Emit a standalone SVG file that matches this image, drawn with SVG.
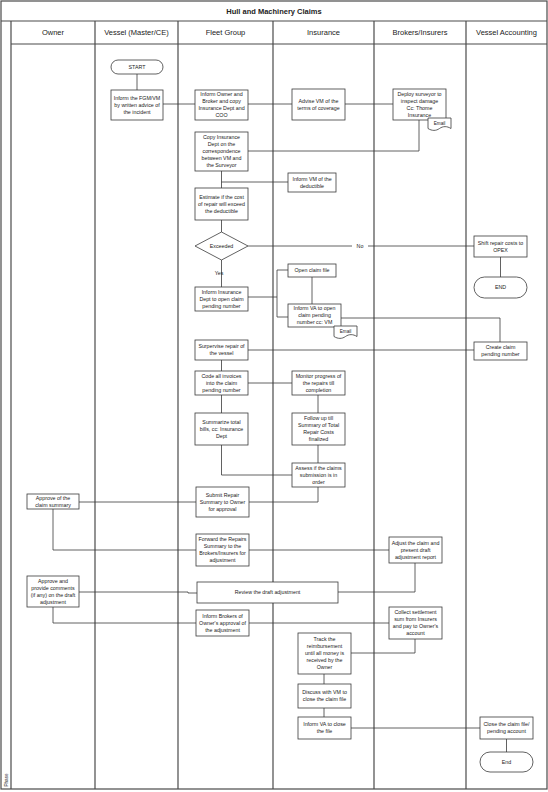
<svg xmlns="http://www.w3.org/2000/svg" width="548" height="792" viewBox="0 0 548 792">
<style>
.box{fill:#fff;stroke:#3a3a3a;stroke-width:0.8}
.ln{fill:none;stroke:#3a3a3a;stroke-width:0.8}
.lane{fill:none;stroke:#4a4a4a;stroke-width:1.2}
.t{font-family:'Liberation Sans',Arial,sans-serif;font-size:5.3px;fill:#222;text-anchor:middle}
.h{font-size:7.5px}
.b{font-weight:bold}
.e{font-size:4.6px}
</style>
<rect width="548" height="792" fill="#fff"/>
<g id="frame">
<rect class="lane" x="1" y="1" width="546" height="788"/>
<line class="lane" x1="1" y1="21" x2="547" y2="21"/>
<line class="lane" x1="11" y1="44" x2="547" y2="44"/>
<line class="lane" x1="11" y1="21" x2="11" y2="789"/>
<line class="lane" x1="95" y1="21" x2="95" y2="789"/>
<line class="lane" x1="178" y1="21" x2="178" y2="789"/>
<line class="lane" x1="273" y1="21" x2="273" y2="789"/>
<line class="lane" x1="374" y1="21" x2="374" y2="789"/>
<line class="lane" x1="466" y1="21" x2="466" y2="789"/>
<text class="t h b" x="274" y="14">Hull and Machinery Claims</text>
<text class="t h" x="53" y="35">Owner</text>
<text class="t h" x="136.5" y="35">Vessel (Master/CE)</text>
<text class="t h" x="225.5" y="35">Fleet Group</text>
<text class="t h" x="323.5" y="35">Insurance</text>
<text class="t h" x="420" y="35">Brokers/Insurers</text>
<text class="t h" x="506.5" y="35">Vessel Accounting</text>
<text class="t e" transform="translate(7.5,780) rotate(-90)">Phase</text>
</g>
<g id="connectors">
<path class="ln" d="M137,74V90"/>
<path class="ln" d="M163,104H195"/>
<path class="ln" d="M248,104H292"/>
<path class="ln" d="M345,104H393"/>
<path class="ln" d="M419,120V151H248"/>
<path class="ln" d="M221.5,171V188M221.5,182H288"/>
<path class="ln" d="M221.5,220V232"/>
<path class="ln" d="M248,246H474"/>
<path class="ln" d="M221.5,260V287"/>
<path class="ln" d="M248,297H277M277,270V317M277,270H288M277,317H288"/>
<path class="ln" d="M312,277V304"/>
<path class="ln" d="M341,318H500V342"/>
<path class="ln" d="M500.5,257V277"/>
<path class="ln" d="M248,350H474"/>
<path class="ln" d="M221.5,360V371"/>
<path class="ln" d="M248,383H292"/>
<path class="ln" d="M318,395V413"/>
<path class="ln" d="M221.5,395V413"/>
<path class="ln" d="M318,445V463"/>
<path class="ln" d="M221.5,445V475H292"/>
<path class="ln" d="M318,487V502H249"/>
<path class="ln" d="M79,502H197"/>
<path class="ln" d="M53,509V550H197"/>
<path class="ln" d="M249,550H389"/>
<path class="ln" d="M415,563V592H338"/>
<path class="ln" d="M79,592H188V593H197"/>
<path class="ln" d="M53,607V623H197"/>
<path class="ln" d="M249,623H389"/>
<path class="ln" d="M415,639V653H351"/>
<path class="ln" d="M324,674V684"/>
<path class="ln" d="M324,708V717"/>
<path class="ln" d="M351,728H480"/>
<path class="ln" d="M506.5,739V752"/>
<rect x="352" y="242" width="16" height="8" fill="#fff"/>
<text class="t" x="360" y="247.8">No</text>
<text class="t" x="219" y="274.8">Yes</text>
</g>
<g id="start"><rect class="box" x="111" y="60" width="52" height="14" rx="7"/><text class="t" x="137" y="68.9">START</text></g>
<g id="v_inform"><rect class="box" x="111" y="90" width="52" height="30"/><text class="t" x="137" y="99.9">Inform the FGM/VM<tspan x="137" dy="7">by written advice of</tspan><tspan x="137" dy="7">the incident</tspan></text></g>
<g id="f_inform"><rect class="box" x="195" y="90" width="53" height="30"/><text class="t" x="221.5" y="96.4">Inform Owner and<tspan x="221.5" dy="7">Broker and copy</tspan><tspan x="221.5" dy="7">Insurance Dept and</tspan><tspan x="221.5" dy="7">COO</tspan></text></g>
<g id="f_copy"><rect class="box" x="195" y="132" width="53" height="39"/><text class="t" x="221.5" y="139.4">Copy Insurance<tspan x="221.5" dy="7">Dept on the</tspan><tspan x="221.5" dy="7">correspondence</tspan><tspan x="221.5" dy="7">between VM and</tspan><tspan x="221.5" dy="7">the Surveyor</tspan></text></g>
<g id="f_estimate"><rect class="box" x="195" y="188" width="53" height="32"/><text class="t" x="221.5" y="198.9">Estimate if the cost<tspan x="221.5" dy="7">of repair will exceed</tspan><tspan x="221.5" dy="7">the deductible</tspan></text></g>
<g id="exceeded"><polygon class="box" points="195,246 221.5,232 248,246 221.5,260"/><text class="t" x="221.5" y="247.9">Exceeded</text></g>
<g id="f_inform_ins"><rect class="box" x="195" y="287" width="53" height="24"/><text class="t" x="221.5" y="293.9">Inform Insurance<tspan x="221.5" dy="7">Dept to open claim</tspan><tspan x="221.5" dy="7">pending number</tspan></text></g>
<g id="f_surpervise"><rect class="box" x="195" y="340" width="53" height="20"/><text class="t" x="221.5" y="348.4">Surpervise repair of<tspan x="221.5" dy="7">the vessel</tspan></text></g>
<g id="f_code"><rect class="box" x="195" y="371" width="53" height="24"/><text class="t" x="221.5" y="377.9">Code all invoices<tspan x="221.5" dy="7">into the claim</tspan><tspan x="221.5" dy="7">pending number</tspan></text></g>
<g id="f_summarize"><rect class="box" x="195" y="413" width="53" height="32"/><text class="t" x="221.5" y="423.9">Summarize total<tspan x="221.5" dy="7">bills, cc: Insurance</tspan><tspan x="221.5" dy="7">Dept</tspan></text></g>
<g id="f_submit"><rect class="box" x="196" y="487" width="53" height="30"/><text class="t" x="222.5" y="496.9">Submit Repair<tspan x="222.5" dy="7">Summary to Owner</tspan><tspan x="222.5" dy="7">for approval</tspan></text></g>
<g id="f_forward"><rect class="box" x="196" y="534" width="53" height="32"/><text class="t" x="222.5" y="541.4">Forward the Repairs<tspan x="222.5" dy="7">Summary to the</tspan><tspan x="222.5" dy="7">Brokers/Insurers for</tspan><tspan x="222.5" dy="7">adjustment</tspan></text></g>
<g id="review"><rect class="box" x="197" y="582" width="141" height="21"/><text class="t" x="267.5" y="594.4">Review the draft adjustment</text></g>
<g id="f_inform_brokers"><rect class="box" x="196" y="610" width="53" height="26"/><text class="t" x="222.5" y="617.9">Inform Brokers of<tspan x="222.5" dy="7">Owner's approval of</tspan><tspan x="222.5" dy="7">the adjustment</tspan></text></g>
<g id="i_advise"><rect class="box" x="292" y="89" width="53" height="31"/><text class="t" x="318.5" y="102.9">Advise VM of the<tspan x="318.5" dy="7">terms of coverage</tspan></text></g>
<g id="i_inform_vm"><rect class="box" x="288" y="173" width="48" height="19"/><text class="t" x="312" y="180.9">Inform VM of the<tspan x="312" dy="7">deductible</tspan></text></g>
<g id="i_open"><rect class="box" x="288" y="264" width="48" height="13"/><text class="t" x="312" y="272.4">Open claim file</text></g>
<g id="i_inform_va"><rect class="box" x="288" y="304" width="53" height="23"/><text class="t" x="314.5" y="309.9">Inform VA to open<tspan x="314.5" dy="7">claim pending</tspan><tspan x="314.5" dy="7">number cc: VM</tspan></text><path class="box" d="M334,326H357V336.5C353,334 349,334 345.5,336.5C342,339 338,339 334,336.5Z"/><text class="t e" x="345.5" y="333.2">Email</text></g>
<g id="i_monitor"><rect class="box" x="292" y="371" width="53" height="24"/><text class="t" x="318.5" y="377.9">Monitor progress of<tspan x="318.5" dy="7">the repairs till</tspan><tspan x="318.5" dy="7">completion</tspan></text></g>
<g id="i_follow"><rect class="box" x="292" y="413" width="53" height="32"/><text class="t" x="318.5" y="420.4">Follow up till<tspan x="318.5" dy="7">Summary of Total</tspan><tspan x="318.5" dy="7">Repair Costs</tspan><tspan x="318.5" dy="7">finalized</tspan></text></g>
<g id="i_assess"><rect class="box" x="292" y="463" width="53" height="24"/><text class="t" x="318.5" y="469.9">Assess if the claims<tspan x="318.5" dy="7">submission is in</tspan><tspan x="318.5" dy="7">order</tspan></text></g>
<g id="i_track"><rect class="box" x="298" y="633" width="53" height="41"/><text class="t" x="324.5" y="641.4">Track the<tspan x="324.5" dy="7">reimbursement</tspan><tspan x="324.5" dy="7">until all money is</tspan><tspan x="324.5" dy="7">received by the</tspan><tspan x="324.5" dy="7">Owner</tspan></text></g>
<g id="i_discuss"><rect class="box" x="298" y="684" width="53" height="24"/><text class="t" x="324.5" y="694.4">Discuss with VM to<tspan x="324.5" dy="7">close the claim file</tspan></text></g>
<g id="i_inform_va_close"><rect class="box" x="298" y="717" width="53" height="22"/><text class="t" x="324.5" y="726.4">Inform VA to close<tspan x="324.5" dy="7">the file</tspan></text></g>
<g id="b_deploy"><rect class="box" x="393" y="89" width="53" height="31"/><text class="t" x="419.5" y="95.9">Deploy surveyor to<tspan x="419.5" dy="7">inspect damage</tspan><tspan x="419.5" dy="7">Cc: Thome</tspan><tspan x="419.5" dy="7">Insurance</tspan></text><path class="box" d="M428,118H451V128.5C447,126 443,126 439.5,128.5C436,131 432,131 428,128.5Z"/><text class="t e" x="439.5" y="125.2">Email</text></g>
<g id="b_adjust"><rect class="box" x="389" y="537" width="53" height="26"/><text class="t" x="415.5" y="544.9">Adjust the claim and<tspan x="415.5" dy="7">present draft</tspan><tspan x="415.5" dy="7">adjustment report</tspan></text></g>
<g id="b_collect"><rect class="box" x="389" y="607" width="53" height="32"/><text class="t" x="415.5" y="614.4">Collect settlement<tspan x="415.5" dy="7">sum from Insurers</tspan><tspan x="415.5" dy="7">and pay to Owner's</tspan><tspan x="415.5" dy="7">account</tspan></text></g>
<g id="va_shift"><rect class="box" x="474" y="236" width="53" height="21"/><text class="t" x="500.5" y="244.9">Shift repair costs to<tspan x="500.5" dy="7">OPEX</tspan></text></g>
<g id="va_end"><rect class="box" x="474" y="277" width="53" height="21" rx="10.5"/><text class="t" x="500.5" y="289.4">END</text></g>
<g id="va_create"><rect class="box" x="474" y="342" width="53" height="18"/><text class="t" x="500.5" y="349.4">Create claim<tspan x="500.5" dy="7">pending number</tspan></text></g>
<g id="va_close"><rect class="box" x="480" y="717" width="53" height="22"/><text class="t" x="506.5" y="726.4">Close the claim file/<tspan x="506.5" dy="7">pending account</tspan></text></g>
<g id="va_end2"><rect class="box" x="480" y="752" width="53" height="20" rx="10"/><text class="t" x="506.5" y="763.9">End</text></g>
<g id="o_approve"><rect class="box" x="27" y="494" width="52" height="15"/><text class="t" x="53" y="499.9">Approve of the<tspan x="53" dy="7">claim summary</tspan></text></g>
<g id="o_approve2"><rect class="box" x="27" y="576" width="52" height="31"/><text class="t" x="53" y="582.9">Approve and<tspan x="53" dy="7">provide comments</tspan><tspan x="53" dy="7">(if any) on the draft</tspan><tspan x="53" dy="7">adjustment</tspan></text></g>
</svg>
